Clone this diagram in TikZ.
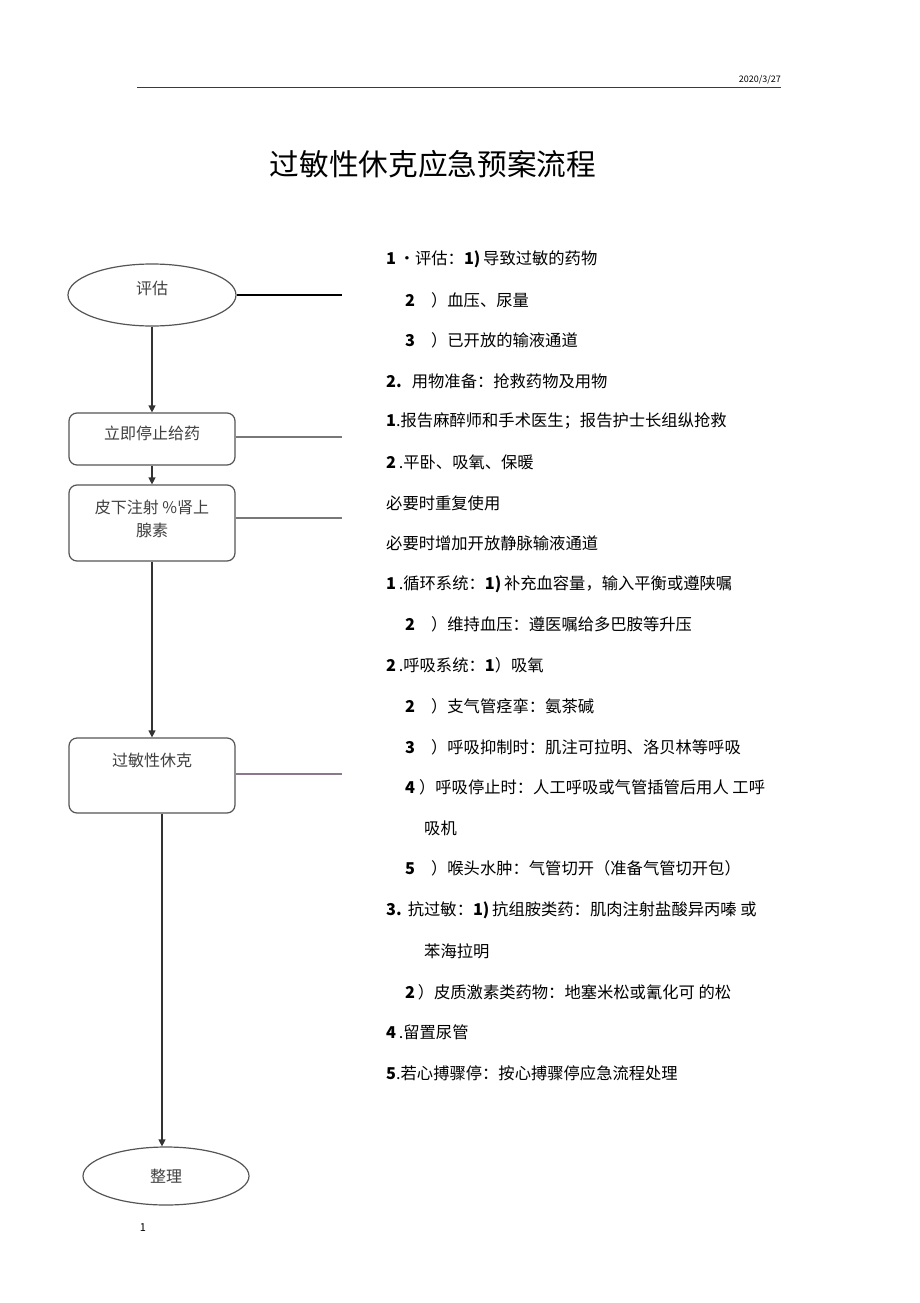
\documentclass[tikz,border=0pt]{standalone}
\usepackage{fontspec}
\setmainfont{Noto Sans CJK SC}
\usetikzlibrary{positioning}
\usetikzlibrary{arrows.meta}
\usetikzlibrary{shapes.geometric}
\definecolor{rule-green}{RGB}{40, 70, 40}
\definecolor{box-gray}{RGB}{85, 85, 85}
\definecolor{link-gray}{RGB}{120, 120, 120}
\definecolor{link-purple}{RGB}{140, 120, 140}
\newcommand{\subline}[2]{\textbf{#1}\hspace{16pt}）#2}

\begin{document}
\begin{tikzpicture}[x=1pt, y=-1pt,
    stepbox/.style={draw=box-gray, line width=1.2pt, rounded corners=8pt, minimum width=166pt},
    endbox/.style={draw=box-gray, line width=1.2pt, ellipse},
    boxtext/.style={font=\fontsize{16}{23}\selectfont, text=black!75, align=center, inner sep=0pt},
    note/.style={anchor=west, font=\fontsize{16.3}{20}\selectfont, inner sep=0pt},
    flow/.style={draw=black!80, line width=1.2pt, -{Triangle[length=7pt,width=7pt]}},
    link/.style={draw=link-gray, line width=1.5pt}]
    \fill[white] (0,0) rectangle (920,1303);
    \useasboundingbox (0,0) rectangle (920,1303);
    % header
    \draw[rule-green, line width=1pt] (137,88) -- (781,88);
    \node[anchor=east, font=\fontsize{9}{10}\selectfont, inner sep=0pt] (date) at (781,80) {2020/3/27};
    \node[font=\fontsize{29.7}{32}\selectfont, inner sep=0pt] (title) at (433,164) {过敏性休克应急预案流程};
    % flow chart
    \node[endbox, minimum width=168pt, minimum height=62pt] (assess) at (152,295) {};
    \node[boxtext, below=17pt of assess.north] (assesstxt) {评估};
    \node[stepbox, minimum height=52pt] (stop) at (152,439) {};
    \node[boxtext, below=13pt of stop.north] (stoptxt) {立即停止给药};
    \node[stepbox, minimum height=76pt] (inject) at (152,523) {};
    \node[boxtext, below=15pt of inject.north] (injecttxt) {皮下注射 \%肾上\\腺素};
    \node[stepbox, minimum height=75pt] (shock) at (152,775.5) {};
    \node[boxtext, below=15pt of shock.north] (shocktxt) {过敏性休克};
    \node[endbox, minimum width=166pt, minimum height=58pt] (tidy) at (166,1176) {};
    \node[boxtext] (tidytxt) at (tidy) {整理};
    \node[font=\fontsize{11}{12}\selectfont, inner sep=0pt] (page) at (143,1228) {1};
    \coordinate (a1) at (342,295);
    \coordinate (a2) at (342,437);
    \coordinate (a3) at (342,518);
    \coordinate (a4) at (342,774);
    \draw[black, line width=2pt] (assess.east) -- (a1);
    \draw[link] (stop.east |- a2) -- (a2);
    \draw[link] (inject.east |- a3) -- (a3);
    \draw[link, draw=link-purple] (shock.east |- a4) -- (a4);
    \draw[flow] (assess.south) -- (stop.north);
    \draw[flow] (stop.south) -- (inject.north);
    \draw[flow] (inject.south) -- (shock.north);
    \draw[flow] ([xshift=10pt]shock.south) -- ([xshift=-4pt]tidy.north);
    % notes
    \node[note] (n1) at (386,259) {\textbf{1}\,•评估：\textbf{1)}\,导致过敏的药物};
    \node[note] (n2) at (405,300) {\subline{2}{血压、尿量}};
    \node[note] (n3) at (405,340) {\subline{3}{已开放的输液通道}};
    \node[note] (n4) at (386,381) {\textbf{2.}\hspace{10pt}用物准备：抢救药物及用物};
    \node[note] (n5) at (386,421) {\textbf{1}.报告麻醉师和手术医生；报告护士长组纵抢救};
    \node[note] (n6) at (386,462) {\textbf{2}\,.平卧、吸氧、保暖};
    \node[note] (n7) at (386,503) {必要时重复使用};
    \node[note] (n8) at (386,543) {必要时增加开放静脉输液通道};
    \node[note] (n9) at (386,584) {\textbf{1}\,.循环系统：\textbf{1)}\,补充血容量，输入平衡或遵陕嘱};
    \node[note] (n10) at (405,624) {\subline{2}{维持血压：遵医嘱给多巴胺等升压}};
    \node[note] (n11) at (386,665) {\textbf{2}\,.呼吸系统：\textbf{1}）吸氧};
    \node[note] (n12) at (405,706) {\subline{2}{支气管痉挛：氨茶碱}};
    \node[note] (n13) at (405,747) {\subline{3}{呼吸抑制时：肌注可拉明、洛贝林等呼吸}};
    \node[note] (n14) at (405,787) {\textbf{4}\hspace{4pt}）呼吸停止时：人工呼吸或气管插管后用人 工呼};
    \node[note] (n15) at (424,828) {吸机};
    \node[note] (n16) at (405,868) {\subline{5}{喉头水肿：气管切开（准备气管切开包）}};
    \node[note] (n17) at (386,910) {\textbf{3.}\hspace{6pt}抗过敏：\textbf{1)}\,抗组胺类药：肌肉注射盐酸异丙嗪 或};
    \node[note] (n18) at (424,951) {苯海拉明};
    \node[note] (n19) at (405,992) {\textbf{2}\,）皮质激素类药物：地塞米松或氰化可 的松};
    \node[note] (n20) at (386,1032) {\textbf{4}\,.留置尿管};
    \node[note] (n21) at (386,1073) {\textbf{5}.若心搏骤停：按心搏骤停应急流程处理};
\end{tikzpicture}
\end{document}
